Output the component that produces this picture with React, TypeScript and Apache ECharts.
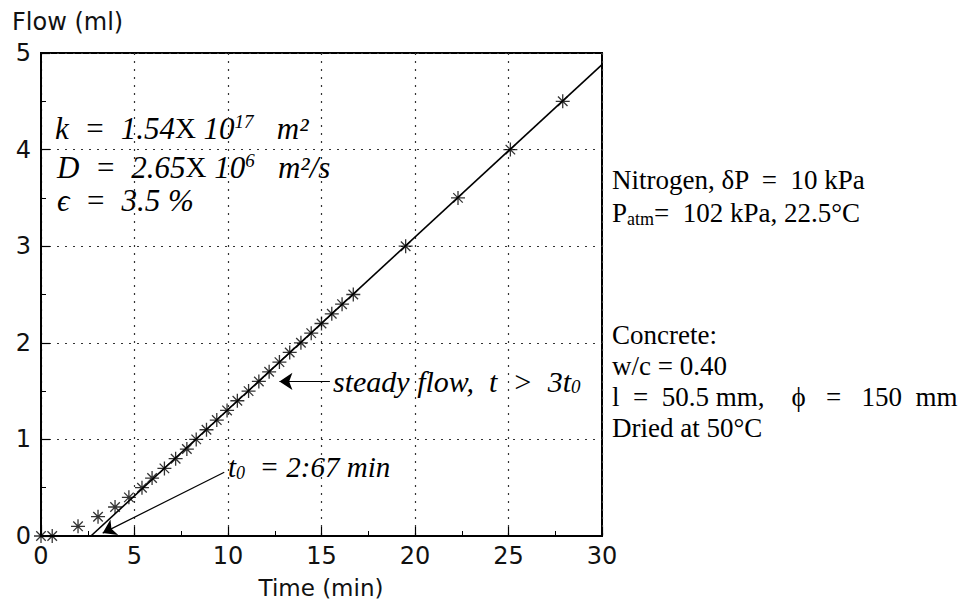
import React, { useEffect, useRef } from "react";
import * as echarts from "echarts";

// measured flow (ml) vs time (min)
const timeMin = [0, 0.6, 1.98, 3.05, 3.96, 4.7, 5.4, 5.94, 6.6, 7.2, 7.8, 8.3, 8.85, 9.4, 9.95, 10.5, 11.1, 11.65, 12.2, 12.75, 13.3, 13.9, 14.45, 15.0, 15.55, 16.1, 16.7, 19.5, 22.3, 25.1, 27.9];
const flowMl = [0, 0, 0.1, 0.2, 0.3, 0.4, 0.5, 0.6, 0.7, 0.8, 0.9, 1.0, 1.1, 1.2, 1.3, 1.4, 1.5, 1.6, 1.7, 1.8, 1.9, 2.0, 2.1, 2.2, 2.3, 2.4, 2.5, 3.0, 3.5, 4.0, 4.5];
// steady-state fit line
const fitTime = [2.67, 30];
const fitFlow = [0, 4.88];
// annotation arrows [from, to]
const steadyArrow = [[15.45, 1.6], [12.75, 1.6]];
const t0Arrow = [[9.8, 0.66], [3.3, 0.03]];
// axis ticks
const xTicks = [0, 5, 10, 15, 20, 25, 30];
const yTicks = [0, 1, 2, 3, 4, 5];

const rightText = [
  "Nitrogen, δP  =  10 kPa",
  "{n|P}{sub|atm}{n|=  102 kPa, 22.5°C}",
  "Concrete:",
  "w/c = 0.40",
  "l  =  50.5 mm,    ϕ   =   150  mm",
  "Dried at 50°C",
];
const rightY = [180, 213, 335, 366, 397, 428];

const ASTERISK = "path://M5 0L5 10M0 5L10 5M1.6 1.6L8.4 8.4M1.6 8.4L8.4 1.6";

export default function App() {
  const ref = useRef<HTMLDivElement>(null);
  useEffect(() => {
    document.body.style.margin = "0";
    const chart = echarts.init(ref.current!, null, { renderer: "svg" });
    const sans = "DejaVu Sans";
    const serif = "Liberation Serif";
    const italicRich = (size: number) => ({
      i: { fontFamily: serif, fontStyle: "italic", fontSize: size, fill: "#000" },
      n: { fontFamily: serif, fontSize: size - 2, fill: "#000" },
      sup: { fontFamily: serif, fontStyle: "italic", fontSize: Math.round(size * 0.62), fill: "#000", verticalAlign: "top", padding: [0, 0, 14, 0] },
      sub: { fontFamily: serif, fontStyle: "italic", fontSize: Math.round(size * 0.62), fill: "#000", verticalAlign: "bottom", padding: [10, 0, 0, 0] },
    });
    const graphics: any[] = [
      { type: "text", x: 12, y: 22, style: { text: "Flow (ml)", fontFamily: sans, fontSize: 24, fill: "#111", verticalAlign: "middle" } },
      { type: "text", x: 321, y: 588, style: { text: "Time (min)", fontFamily: sans, fontSize: 23, fill: "#111", align: "center", verticalAlign: "middle" } },
      { type: "text", x: 55, y: 128, style: { text: "{i|k  =  1.54}{n|X}{i| 10}{sup|17}{i|   m²}", rich: italicRich(31), verticalAlign: "middle" } },
      { type: "text", x: 57, y: 167, style: { text: "{i|D  =  2.65}{n|X}{i| 10}{sup|6}{i|   m²/s}", rich: italicRich(31), verticalAlign: "middle" } },
      { type: "text", x: 57, y: 200, style: { text: "{i|ϵ  =  3.5 %}", rich: italicRich(31), verticalAlign: "middle" } },
      { type: "text", x: 333, y: 381, style: { text: "{i|steady flow,  t  >  3t}{sub|0}", rich: italicRich(30), verticalAlign: "middle" } },
      { type: "text", x: 228, y: 467, style: { text: "{i|t}{sub|0}{i|  = 2:67 min}", rich: italicRich(29), verticalAlign: "middle" } },
    ];
    rightText.forEach((t, k) => {
      graphics.push({
        type: "text", x: 612, y: rightY[k],
        style: {
          text: t.startsWith("{") ? t : "{n|" + t + "}",
          rich: {
            n: { fontFamily: serif, fontSize: 27, fill: "#000" },
            sub: { fontFamily: serif, fontSize: 18, fill: "#000", verticalAlign: "bottom", padding: [12, 0, 0, 0] },
          },
          verticalAlign: "middle",
        },
      });
    });

    const axisCommon = {
      axisLine: { show: true, lineStyle: { color: "#000", width: 2 } },
      axisTick: { show: true, inside: true, length: 9, lineStyle: { color: "#000", width: 1.2 } },
      minorTick: { show: true, splitNumber: 2, length: 5, lineStyle: { color: "#000", width: 1 } },
      splitLine: { show: true, lineStyle: { color: "#333", width: 1.2, type: [2, 6] } },
      axisLabel: { fontFamily: sans, fontSize: 24, color: "#111" },
    };

    chart.setOption({
      animation: false,
      backgroundColor: "#fff",
      grid: { left: 41, top: 53, width: 561, height: 483, show: true, borderColor: "#000", borderWidth: 2, backgroundColor: "transparent" },
      xAxis: {
        type: "value", min: xTicks[0], max: xTicks[xTicks.length - 1], interval: 5,
        ...axisCommon,
        axisLabel: { ...axisCommon.axisLabel, margin: 8 },
      },
      yAxis: {
        type: "value", min: yTicks[0], max: yTicks[yTicks.length - 1], interval: 1,
        ...axisCommon,
        axisLabel: { ...axisCommon.axisLabel, margin: 10 },
      },
      series: [
        {
          type: "line", data: fitTime.map((t, k) => [t, fitFlow[k]]), showSymbol: false, symbol: "none",
          lineStyle: { color: "#000", width: 1.6 }, z: 3,
        },
        {
          type: "scatter", data: timeMin.map((t, k) => [t, flowMl[k]]),
          symbol: ASTERISK, symbolSize: 14, symbolKeepAspect: true,
          itemStyle: { color: "none", borderColor: "#000", borderWidth: 1.3 }, z: 4,
        },
        {
          type: "lines", coordinateSystem: "cartesian2d",
          data: [{ coords: steadyArrow }, { coords: t0Arrow }],
          symbol: ["none", "arrow"], symbolSize: [0, 13],
          lineStyle: { color: "#000", width: 1.2, opacity: 1 }, z: 5,
        },
      ],
      graphic: graphics,
    });
    return () => chart.dispose();
  }, []);
  return <div ref={ref} style={{ position: "fixed", left: 0, top: 0, width: 966, height: 606 }} />;
}
